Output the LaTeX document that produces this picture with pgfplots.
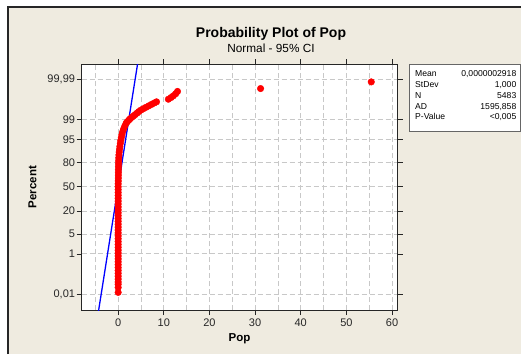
\documentclass[border=0pt]{standalone}
\usepackage{pgfplots}
\pgfplotsset{compat=1.18}
\usepackage{fontspec}
\setmainfont{Liberation Sans}
\definecolor{bg}{RGB}{239,235,224}
\definecolor{gridc}{RGB}{200,200,200}
\pgfplotstableread{
x z
0.0 -3.66
0.0 -3.49
0.0 -3.38
0.0 -3.30
0.0 -3.20
0.0 -3.10
0.0 -3.00
0.0 -2.90
0.0 -2.80
0.0 -2.70
0.0 -2.60
0.0 -2.50
0.0 -2.40
0.0 -2.30
0.0 -2.20
0.0 -2.10
0.0 -2.00
0.0 -1.90
0.0 -1.80
0.0 -1.70
0.0 -1.60
0.0 -1.50
0.0 -1.40
0.0 -1.30
0.0 -1.20
0.0 -1.10
0.0 -1.00
0.0 -0.90
0.0 -0.80
0.0 -0.70
0.0 -0.60
0.0 -0.50
0.0 -0.40
0.0 -0.30
0.0 -0.20
0.0 -0.10
0.0 0.00
0.0 0.10
0.02 0.20
0.03 0.30
0.04 0.40
0.05 0.50
0.06 0.60
0.07 0.70
0.08 0.80
0.10 0.90
0.13 1.00
0.17 1.10
0.23 1.20
0.30 1.30
0.38 1.40
0.47 1.50
0.57 1.60
0.68 1.70
0.82 1.80
0.98 1.90
1.20 2.00
1.45 2.10
1.75 2.20
2.00 2.25
2.30 2.30
2.60 2.35
2.95 2.40
3.35 2.45
3.75 2.50
4.15 2.55
4.50 2.60
4.95 2.65
5.50 2.70
6.10 2.75
6.70 2.80
7.30 2.85
7.90 2.90
8.40 2.94
11.0 3.03
11.6 3.09
12.1 3.15
12.6 3.22
13.0 3.30
31.2 3.40
55.45 3.63
}\popdata
\begin{document}
\begin{tikzpicture}
\useasboundingbox (0pt,0pt) rectangle (521pt,354pt);
\fill[white] (0pt,0pt) rectangle (521pt,354pt);
\fill[bg] (8pt,0pt) rectangle (521pt,347pt);
\draw[black!85, line width=1.3pt] (8pt,0pt) -- (8pt,347pt) -- (521pt,347pt);
\node[font=\fontsize{14}{16}\selectfont\bfseries] at (271pt,320.3pt) {Probability Plot of Pop};
\node[font=\fontsize{11.8}{14}\selectfont] at (271pt,306pt) {Normal - 95\% CI};
\begin{axis}[
  at={(81.7pt,44pt)}, anchor=south west,
  scale only axis, width=315.8pt, height=246pt,
  xmin=-7.99, xmax=61.2, ymin=-4.27, ymax=4.25,
  axis background/.style={fill=white},
  axis line style={black!85, line width=0.9pt},
  tick align=outside, major tick length=5pt,
  tick style={black!85, line width=0.7pt},
  xtick={0,10,20,30,40,50,60},
  xticklabels={0,10,20,30,40,50,60},
  minor xtick={-5,5,15,25,35,45,55},
  ytick={-3.719,-2.326,-1.645,-0.8416,0,0.8416,1.645,2.326,3.719},
  yticklabels={{0,01},1,5,20,50,80,95,99,{99,99}},
  minor tick length=0pt,
  grid=both,
  major grid style={gridc, dash pattern=on 5pt off 3pt, line width=0.8pt},
  minor grid style={gridc, dash pattern=on 5pt off 3pt, line width=0.8pt},
  ticklabel style={font=\fontsize{11}{13}\selectfont, text=black!85},
  yticklabel style={inner sep=1.5pt},
  xlabel={Pop}, ylabel={Percent},
  label style={font=\fontsize{11.5}{13}\selectfont\bfseries},
  ylabel style={yshift=6pt},
  clip=true,
]
\addplot[blue, line width=1.3pt] coordinates {(-4.5,-4.5) (4.5,4.5)};
\addplot[only marks, mark=*, mark size=3.3pt, mark options={fill=red, draw=red}] table[x=x,y=z] {\popdata};
\end{axis}
\fill[white] (409.5pt,223pt) rectangle (520.5pt,290pt);
\draw[black!60, line width=0.8pt] (409.5pt,223pt) rectangle (520.5pt,290pt);
\begin{scope}[every node/.style={font=\fontsize{8.6}{10}\selectfont, inner sep=0pt}]
\node[anchor=base west] at (415pt,277pt) {Mean};
\node[anchor=base west] at (415pt,266.3pt) {StDev};
\node[anchor=base west] at (415pt,255.6pt) {N};
\node[anchor=base west] at (415pt,244.9pt) {AD};
\node[anchor=base west] at (415pt,234.2pt) {P-Value};
\node[anchor=base east] at (516.5pt,277pt) {0,0000002918};
\node[anchor=base east] at (516.5pt,266.3pt) {1,000};
\node[anchor=base east] at (516.5pt,255.6pt) {5483};
\node[anchor=base east] at (516.5pt,244.9pt) {1595,858};
\node[anchor=base east] at (516.5pt,234.2pt) {<0,005};
\end{scope}
\end{tikzpicture}
\end{document}
